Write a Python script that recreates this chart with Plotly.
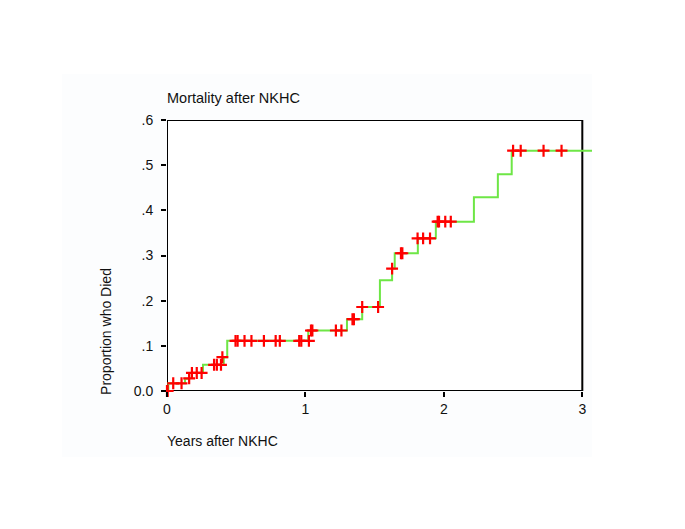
import plotly.graph_objects as go

# Step curve: times where the cumulative proportion changes, and the new level
step_times = [0.0, 0.01, 0.13, 0.16, 0.26, 0.41, 0.435, 1.02, 1.30, 1.41, 1.538, 1.626, 1.645, 1.812, 1.942, 2.217, 2.39, 2.49, 3.07]
step_levels = [0.0, 0.017, 0.027, 0.040, 0.058, 0.075, 0.111, 0.134, 0.159, 0.186, 0.245, 0.271, 0.305, 0.338, 0.375, 0.429, 0.480, 0.532, 0.532]

# Censored observations
cens_times = [0.0, 0.005, 0.045, 0.105, 0.16, 0.18, 0.215, 0.25, 0.34, 0.36, 0.39, 0.40,
              0.495, 0.51, 0.56, 0.61, 0.70, 0.785, 0.815, 0.955, 0.97, 1.025,
              1.04, 1.05, 1.22, 1.26, 1.34, 1.35, 1.41, 1.525, 1.626, 1.69, 1.70,
              1.81, 1.85, 1.90, 1.955, 1.965, 2.01, 2.05, 2.50, 2.555, 2.72, 2.85]
cens_levels = [0.0, 0.0, 0.017, 0.017, 0.028, 0.040, 0.040, 0.040, 0.058, 0.058, 0.058, 0.075,
               0.111, 0.111, 0.111, 0.111, 0.111, 0.111, 0.111, 0.111, 0.111, 0.111,
               0.134, 0.134, 0.134, 0.134, 0.159, 0.159, 0.186, 0.186, 0.271, 0.305, 0.305,
               0.338, 0.338, 0.338, 0.375, 0.375, 0.375, 0.375, 0.532, 0.532, 0.532, 0.532]

x_ticks = [0, 1, 2, 3]
y_ticks = [0.0, 0.1, 0.2, 0.3, 0.4, 0.5, 0.6]
y_ticktext = ["0.0", ".1", ".2", ".3", ".4", ".5", ".6"]

FONT = "Liberation Sans, Arial, sans-serif"

fig = go.Figure()
fig.add_trace(go.Scatter(x=step_times, y=step_levels, mode="lines", line_shape="hv",
                         line=dict(color="#6ee646", width=2), hoverinfo="skip", showlegend=False))
fig.add_trace(go.Scatter(x=cens_times, y=cens_levels, mode="markers", cliponaxis=False,
                         marker=dict(symbol="cross-thin", size=8.5, line=dict(color="#ff0000", width=2.2),
                                     color="#ff0000"), showlegend=False))

# faint background panel
fig.add_shape(type="rect", xref="paper", yref="paper", x0=-0.247, x1=1.0, y0=-0.2435, y1=1.17,
              fillcolor="#fcfdfe", line=dict(width=0), layer="below")
# white plotting frame
fig.add_shape(type="rect", xref="x", yref="y", x0=0, x1=3, y0=0, y1=0.6,
              fillcolor="white", line=dict(width=0), layer="below")
fig.add_shape(type="rect", xref="x", yref="y", x0=0, x1=3, y0=0, y1=0.6,
              fillcolor="rgba(0,0,0,0)", line=dict(color="black", width=2), layer="below")

fig.update_layout(
    width=677, height=521,
    margin=dict(l=159, r=93, t=112, b=138),
    paper_bgcolor="white", plot_bgcolor="rgba(0,0,0,0)",
    font=dict(family=FONT, size=14, color="#111"),
    xaxis=dict(range=[0, 3.07], tickvals=x_ticks, ticks="outside", ticklen=5, tickwidth=1.5,
               tickcolor="black", showgrid=False, zeroline=False, showline=False,
               tickfont=dict(size=14)),
    yaxis=dict(range=[0, 0.6], tickvals=y_ticks, ticktext=y_ticktext, ticks="outside", ticklen=5,
               tickwidth=1.5, tickcolor="black", showgrid=False, zeroline=False, showline=False,
               ticklabelstandoff=5, tickfont=dict(size=14)),
    annotations=[
        dict(text="Mortality after NKHC", xref="paper", yref="paper", x=-0.005, y=1.081,
             xanchor="left", yanchor="middle", showarrow=False, font=dict(size=14.5)),
        dict(text="Years after NKHC", xref="paper", yref="paper", x=-0.005, y=-0.1845,
             xanchor="left", yanchor="middle", showarrow=False, font=dict(size=14)),
        dict(text="Proportion who Died", xref="paper", yref="paper", x=-0.1435, y=0.218,
             xanchor="center", yanchor="middle", textangle=-90, showarrow=False, font=dict(size=14)),
    ],
)

fig.write_html("out.html")
